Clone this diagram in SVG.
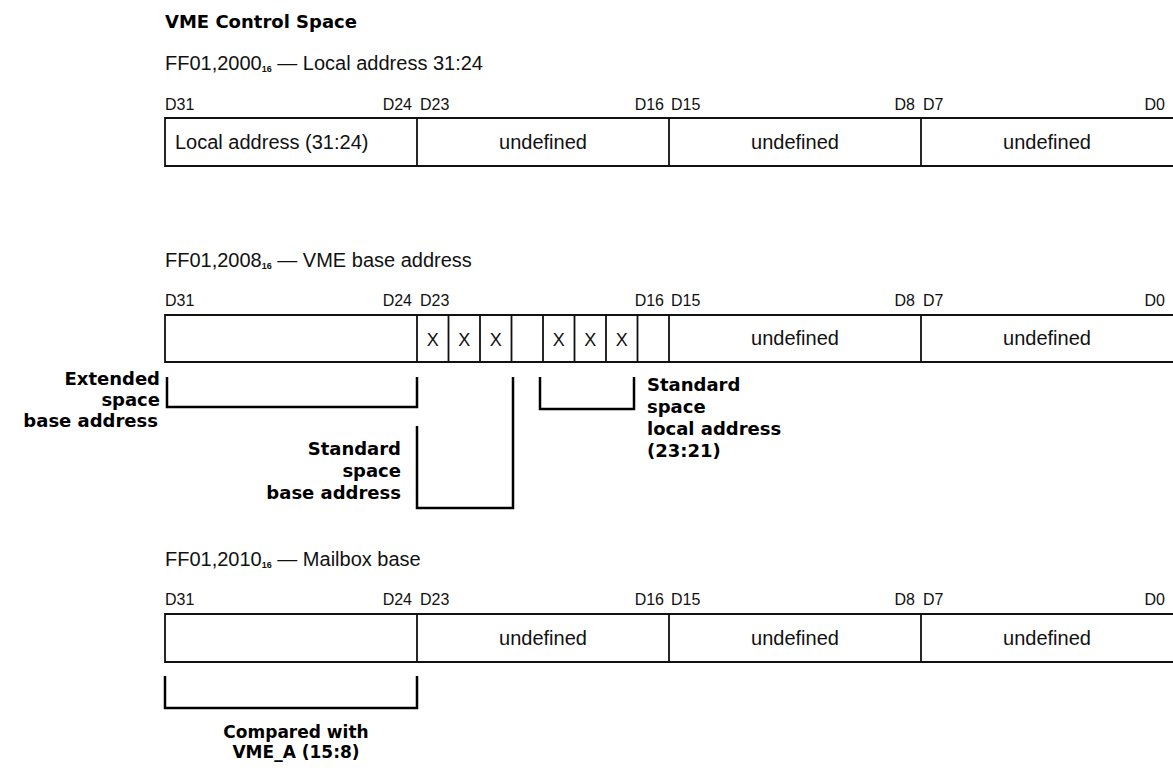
<svg xmlns="http://www.w3.org/2000/svg" width="1173" height="768" viewBox="0 0 1173 768">
<style>
.t{font-family:"Liberation Sans",Arial,sans-serif;font-size:20px;fill:#111}
.d{font-family:"Liberation Sans",Arial,sans-serif;font-size:16px;fill:#111}
.x{font-family:"Liberation Sans",Arial,sans-serif;font-size:18px;fill:#111}
.b{font-family:"DejaVu Sans","Liberation Sans",sans-serif;font-size:18px;font-weight:bold;fill:#000}
.bs{font-size:17px}
.h{font-family:"DejaVu Sans","Liberation Sans",sans-serif;font-size:18px;font-weight:bold;fill:#000}
.s{font-size:9px;font-weight:bold}
.c{text-anchor:middle}
.e{text-anchor:end}
.box{fill:none;stroke:#111;stroke-width:1.8}
.br{fill:none;stroke:#000;stroke-width:2.5}
</style>
<rect width="1173" height="768" fill="#fff"/>
<text id="title" class="h" x="165" y="28">VME Control Space</text>

<g id="reg1">
<text class="t" x="165" y="70">FF01,2000<tspan class="s" dy="2">16</tspan><tspan dy="-2"> — Local address 31:24</tspan></text>
<text class="d" x="165" y="110">D31</text>
<text class="d e" x="412" y="110">D24</text>
<text class="d" x="420" y="110">D23</text>
<text class="d e" x="664" y="110">D16</text>
<text class="d" x="671" y="110">D15</text>
<text class="d e" x="915" y="110">D8</text>
<text class="d" x="923" y="110">D7</text>
<text class="d e" x="1165" y="110">D0</text>
<path class="box" d="M1173,118 H165 V166 H1173 M417,118 V166 M669,118 V166 M921,118 V166"/>
<text class="t" x="175" y="149">Local address (31:24)</text>
<text class="t c" x="543" y="149">undefined</text>
<text class="t c" x="795" y="149">undefined</text>
<text class="t c" x="1047" y="149">undefined</text>
</g>

<g id="reg2">
<text class="t" x="165" y="267">FF01,2008<tspan class="s" dy="2">16</tspan><tspan dy="-2"> — VME base address</tspan></text>
<text class="d" x="165" y="306">D31</text>
<text class="d e" x="412" y="306">D24</text>
<text class="d" x="420" y="306">D23</text>
<text class="d e" x="664" y="306">D16</text>
<text class="d" x="671" y="306">D15</text>
<text class="d e" x="915" y="306">D8</text>
<text class="d" x="923" y="306">D7</text>
<text class="d e" x="1165" y="306">D0</text>
<path class="box" d="M1173,315 H165 V362 H1173 M417,315 V362 M448.5,315 V362 M480,315 V362 M511.5,315 V362 M543,315 V362 M574.5,315 V362 M606,315 V362 M637.5,315 V362 M669,315 V362 M921,315 V362"/>
<text class="x c" x="432.8" y="346">X</text>
<text class="x c" x="464.3" y="346">X</text>
<text class="x c" x="495.8" y="346">X</text>
<text class="x c" x="558.8" y="346">X</text>
<text class="x c" x="590.3" y="346">X</text>
<text class="x c" x="621.8" y="346">X</text>
<text class="t c" x="795" y="345">undefined</text>
<text class="t c" x="1047" y="345">undefined</text>
</g>

<g id="ann-extended">
<text class="b e" x="160" y="385">Extended</text>
<text class="b e" x="160" y="406">space</text>
<text class="b e" x="158" y="427">base address</text>
</g>
<g id="ann-stdbase">
<text class="b e" x="401" y="455">Standard</text>
<text class="b e" x="401" y="477">space</text>
<text class="b e" x="401" y="499">base address</text>
</g>
<g id="ann-stdlocal">
<text class="b" x="647" y="391">Standard</text>
<text class="b" x="647" y="413">space</text>
<text class="b" x="647" y="435">local address</text>
<text class="b" x="647" y="457">(23:21)</text>
</g>

<g id="reg3">
<text class="t" x="165" y="566">FF01,2010<tspan class="s" dy="2">16</tspan><tspan dy="-2"> — Mailbox base</tspan></text>
<text class="d" x="165" y="605">D31</text>
<text class="d e" x="412" y="605">D24</text>
<text class="d" x="420" y="605">D23</text>
<text class="d e" x="664" y="605">D16</text>
<text class="d" x="671" y="605">D15</text>
<text class="d e" x="915" y="605">D8</text>
<text class="d" x="923" y="605">D7</text>
<text class="d e" x="1165" y="605">D0</text>
<path class="box" d="M1173,614 H165 V662 H1173 M417,614 V662 M669,614 V662 M921,614 V662"/>
<text class="t c" x="543" y="645">undefined</text>
<text class="t c" x="795" y="645">undefined</text>
<text class="t c" x="1047" y="645">undefined</text>
</g>
<g id="ann-compared">
<text class="b bs c" x="296" y="738">Compared with</text>
<text class="b bs c" x="296" y="758">VME_A (15:8)</text>
</g>

<g id="connectors">
<path class="br" d="M167,377 V407 H417 V377"/>
<path class="br" d="M513,377 V508 H417 V426"/>
<path class="br" d="M540,377 V409 H634 V377"/>
<path class="br" d="M165,676 V708 H417 V676"/>
</g>
</svg>
